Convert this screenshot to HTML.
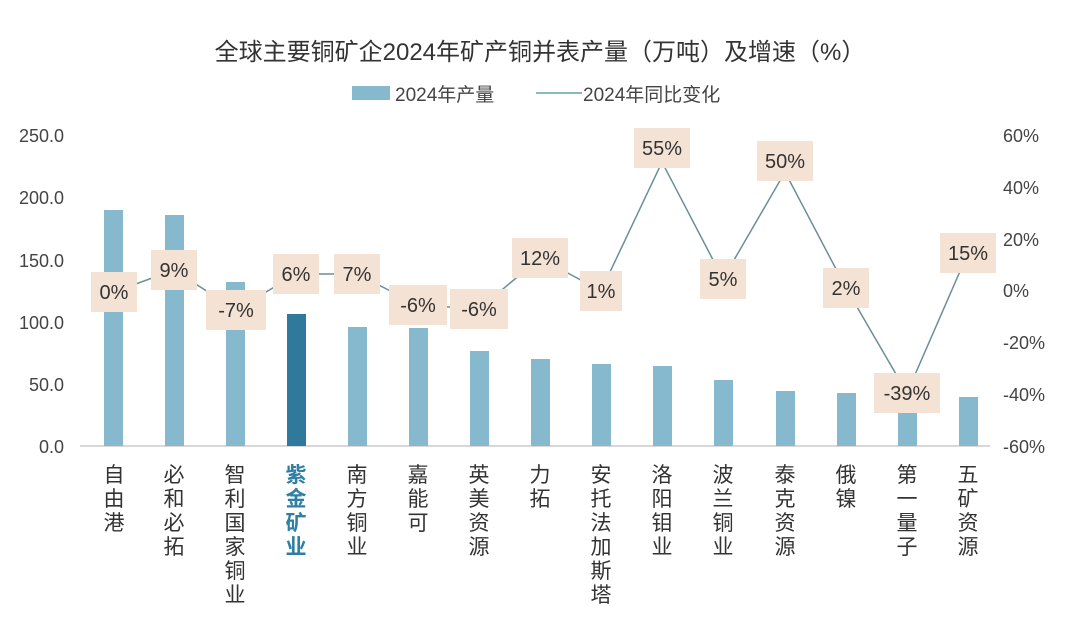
<!DOCTYPE html>
<html><head><meta charset="utf-8"><style>
body{margin:0;background:#fff;}
text{font-family:"Liberation Sans","Noto Sans CJK SC",sans-serif;}
</style></head><body>
<svg width="1080" height="631" xmlns="http://www.w3.org/2000/svg">
<rect width="1080" height="631" fill="#fff"/>
<text x="540" y="60" font-size="24" text-anchor="middle" fill="#333">全球主要铜矿企2024年矿产铜并表产量（万吨）及增速（%）</text>
<rect x="352" y="86" width="38" height="14" fill="#86b9cd"/>
<text x="395" y="101" font-size="19" fill="#444">2024年产量</text>
<line x1="536" y1="93" x2="582" y2="93" stroke="#5fa6a6" stroke-width="1.5"/>
<text x="583" y="101" font-size="19" fill="#444">2024年同比变化</text>
<g font-size="18" fill="#444" text-anchor="end">
<text x="64" y="142">250.0</text><text x="64" y="204">200.0</text><text x="64" y="267">150.0</text>
<text x="64" y="329">100.0</text><text x="64" y="391">50.0</text><text x="64" y="453">0.0</text>
</g>
<g font-size="18" fill="#444" text-anchor="start">
<text x="1003" y="142">60%</text><text x="1003" y="194">40%</text><text x="1003" y="246">20%</text>
<text x="1003" y="297">0%</text><text x="1003" y="349">-20%</text><text x="1003" y="401">-40%</text><text x="1003" y="453">-60%</text>
</g>
<line x1="80" y1="446" x2="990" y2="446" stroke="#ccc" stroke-width="1.5"/>
<g fill="#86b9cd">
<rect x="104" y="210" width="19" height="236"/>
<rect x="165" y="215" width="19" height="231"/>
<rect x="226" y="282" width="19" height="164"/>
<rect x="287" y="314" width="19" height="132" fill="#2f7a9c"/>
<rect x="348" y="327" width="19" height="119"/>
<rect x="409" y="328" width="19" height="118"/>
<rect x="470" y="351" width="19" height="95"/>
<rect x="531" y="359" width="19" height="87"/>
<rect x="592" y="364" width="19" height="82"/>
<rect x="653" y="366" width="19" height="80"/>
<rect x="714" y="380" width="19" height="66"/>
<rect x="776" y="391" width="19" height="55"/>
<rect x="837" y="393" width="19" height="53"/>
<rect x="898" y="410" width="19" height="36"/>
<rect x="959" y="397" width="19" height="49"/>
</g>
<polyline fill="none" stroke="#6a8f97" stroke-width="1.5" points="114,292 174,270 236,310 296,274 357,274 418,305 479,309 540,258 601,291 662,162 723,279 785,172 846,288 907,393 968,253"/>
<g font-size="20" fill="#333" text-anchor="middle">
<g fill="#f4e2d4">
<rect x="91" y="272" width="46" height="40"/><rect x="151" y="250" width="46" height="40"/>
<rect x="206" y="290" width="60" height="40"/><rect x="273" y="254" width="46" height="40"/>
<rect x="334" y="254" width="46" height="40"/><rect x="389" y="285" width="58" height="40"/>
<rect x="450" y="289" width="58" height="40"/><rect x="512" y="238" width="56" height="40"/>
<rect x="580" y="271" width="42" height="40"/><rect x="634" y="128" width="56" height="40"/>
<rect x="700" y="259" width="46" height="40"/><rect x="757" y="141" width="56" height="40"/>
<rect x="823" y="268" width="46" height="40"/><rect x="874" y="373" width="66" height="40"/>
<rect x="940" y="233" width="56" height="40"/>
</g>
<text x="114" y="299">0%</text><text x="174" y="277">9%</text><text x="236" y="317">-7%</text>
<text x="296" y="281">6%</text><text x="357" y="281">7%</text><text x="418" y="312">-6%</text>
<text x="479" y="316">-6%</text><text x="540" y="265">12%</text><text x="601" y="298">1%</text>
<text x="662" y="155">55%</text><text x="723" y="286">5%</text><text x="785" y="168">50%</text>
<text x="846" y="295">2%</text><text x="907" y="400">-39%</text><text x="968" y="260">15%</text>
</g>
<g font-size="21" fill="#333" text-anchor="middle">
<text x="114" y="482">自</text><text x="114" y="506">由</text><text x="114" y="530">港</text>
<text x="174" y="482">必</text><text x="174" y="506">和</text><text x="174" y="530">必</text><text x="174" y="554">拓</text>
<text x="235" y="482">智</text><text x="235" y="506">利</text><text x="235" y="530">国</text><text x="235" y="554">家</text><text x="235" y="578">铜</text><text x="235" y="602">业</text>
<g fill="#2f7fa3" font-weight="bold"><text x="296" y="482">紫</text><text x="296" y="506">金</text><text x="296" y="530">矿</text><text x="296" y="554">业</text></g>
<text x="357" y="482">南</text><text x="357" y="506">方</text><text x="357" y="530">铜</text><text x="357" y="554">业</text>
<text x="418" y="482">嘉</text><text x="418" y="506">能</text><text x="418" y="530">可</text>
<text x="479" y="482">英</text><text x="479" y="506">美</text><text x="479" y="530">资</text><text x="479" y="554">源</text>
<text x="540" y="482">力</text><text x="540" y="506">拓</text>
<text x="601" y="482">安</text><text x="601" y="506">托</text><text x="601" y="530">法</text><text x="601" y="554">加</text><text x="601" y="578">斯</text><text x="601" y="602">塔</text>
<text x="662" y="482">洛</text><text x="662" y="506">阳</text><text x="662" y="530">钼</text><text x="662" y="554">业</text>
<text x="723" y="482">波</text><text x="723" y="506">兰</text><text x="723" y="530">铜</text><text x="723" y="554">业</text>
<text x="785" y="482">泰</text><text x="785" y="506">克</text><text x="785" y="530">资</text><text x="785" y="554">源</text>
<text x="846" y="482">俄</text><text x="846" y="506">镍</text>
<text x="907" y="482">第</text><text x="907" y="506">一</text><text x="907" y="530">量</text><text x="907" y="554">子</text>
<text x="968" y="482">五</text><text x="968" y="506">矿</text><text x="968" y="530">资</text><text x="968" y="554">源</text>
</g>
</svg>
</body></html>
